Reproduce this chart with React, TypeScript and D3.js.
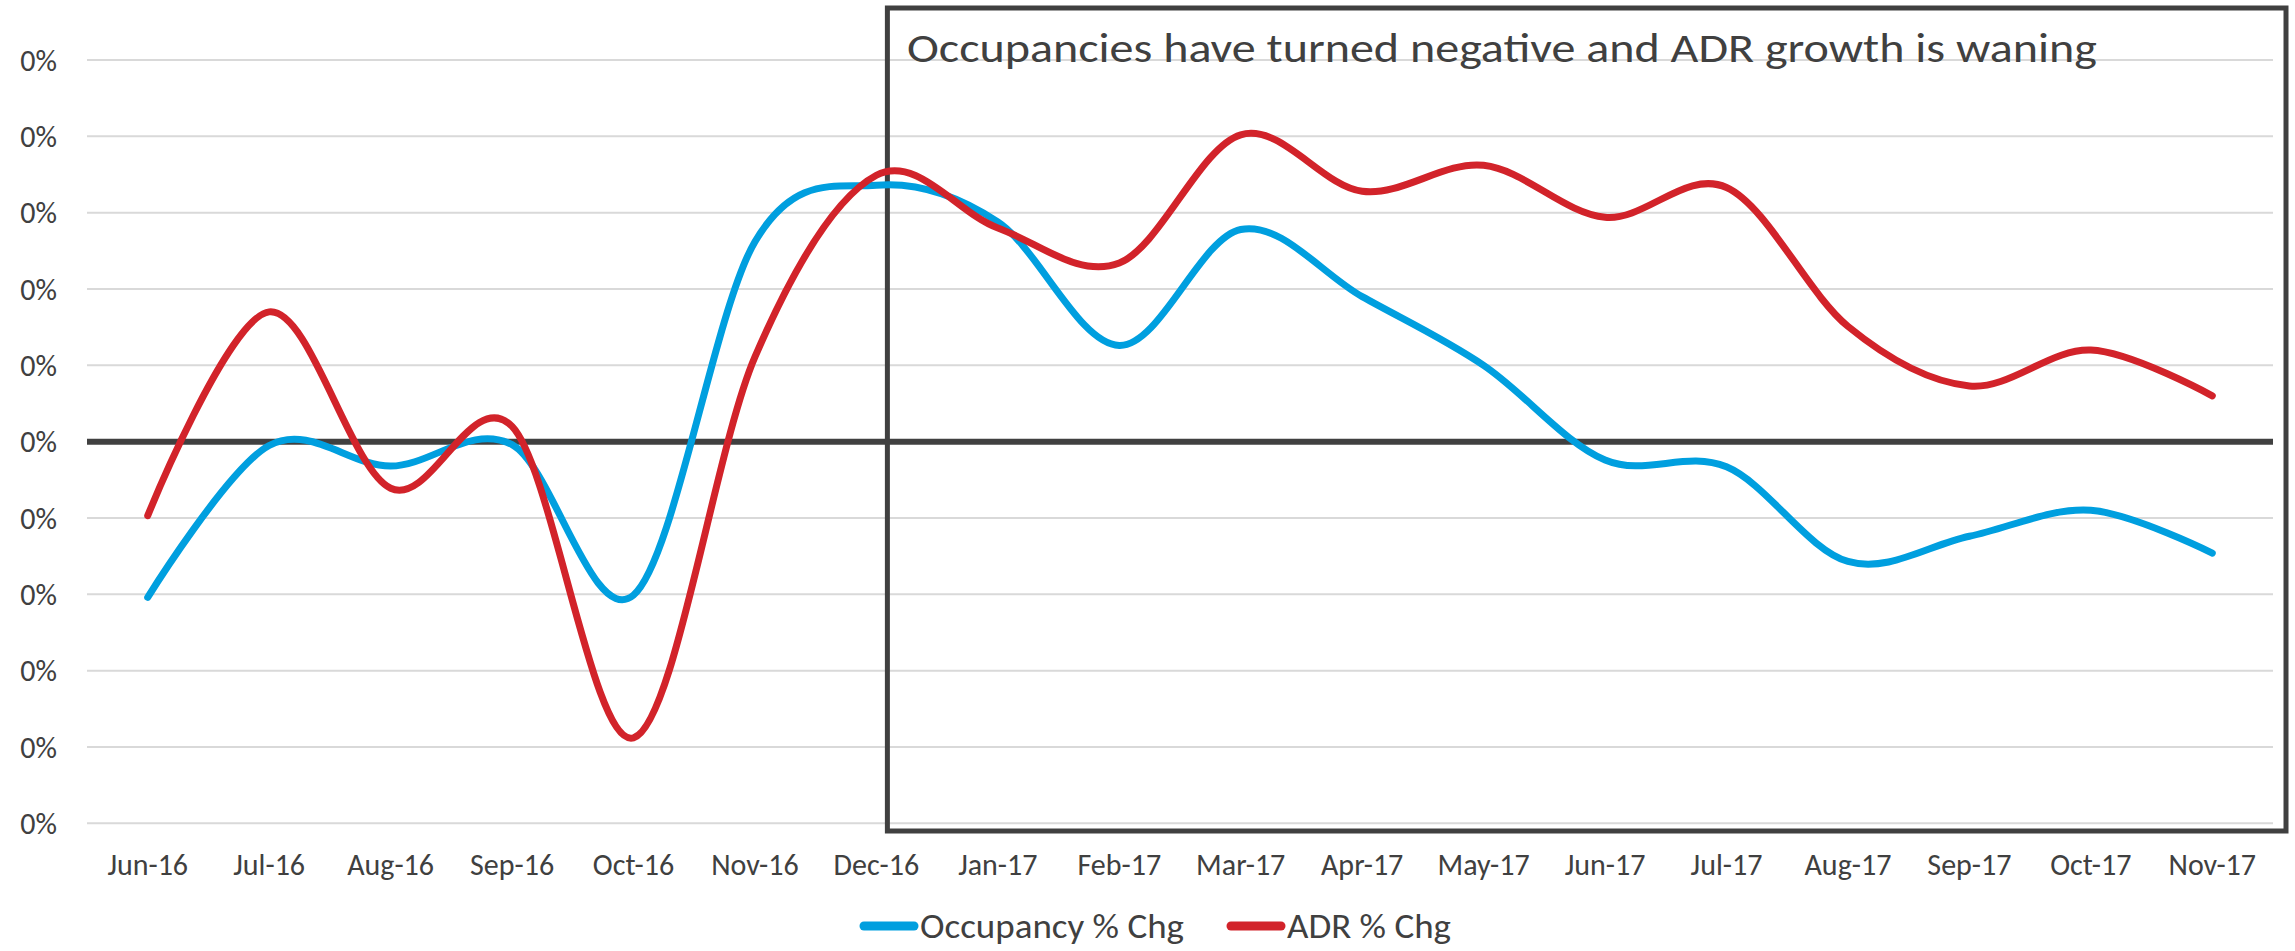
import React, { useEffect, useRef } from 'react';
import * as d3 from 'd3';

const months = ['Jun-16', 'Jul-16', 'Aug-16', 'Sep-16', 'Oct-16', 'Nov-16', 'Dec-16', 'Jan-17', 'Feb-17',
  'Mar-17', 'Apr-17', 'May-17', 'Jun-17', 'Jul-17', 'Aug-17', 'Sep-17', 'Oct-17', 'Nov-17'];

// values in axis units (gridline steps), all labels read "0%"
const occupancy = [-2.04, -0.05, -0.32, -0.04, -2.01, 2.62, 3.36, 2.88, 1.26, 2.78, 1.9, 1.0, -0.24, -0.33, -1.57, -1.24, -0.9, -1.46];
const adr = [-0.97, 1.7, -0.61, 0.2, -3.88, 1.11, 3.49, 2.8, 2.34, 4.02, 3.28, 3.62, 2.94, 3.33, 1.51, 0.73, 1.2, 0.6];

const yTicks = [-5, -4, -3, -2, -1, 0, 1, 2, 3, 4, 5];
const yTickLabels = ['0%', '0%', '0%', '0%', '0%', '0%', '0%', '0%', '0%', '0%', '0%'];

const seriesNames = ['Occupancy % Chg', 'ADR % Chg'];
const seriesColors = ['#009fdf', '#d2232a'];

const title = 'Occupancies have turned negative and ADR growth is waning';

const W = 2295;
const H = 951;
const FONT = "Carlito, Calibri, 'Open Sans', sans-serif";

const App = () => {
  const ref = useRef<SVGSVGElement>(null);

  useEffect(() => {
    const svg = d3.select(ref.current);
    svg.selectAll('*').remove();

    const x = d3.scalePoint<string>().domain(months).range([87, 2273]).padding(0.5);
    const y = d3.scaleLinear().domain([-5, 5]).range([823.3, 60]);

    // gridlines
    svg.append('g')
      .selectAll('line')
      .data(yTicks)
      .enter()
      .append('line')
      .attr('x1', 87)
      .attr('x2', 2273)
      .attr('y1', d => y(d))
      .attr('y2', d => y(d))
      .attr('stroke', '#d9d9d9')
      .attr('stroke-width', 2);

    // y labels
    svg.append('g')
      .selectAll('text')
      .data(yTicks)
      .enter()
      .append('text')
      .attr('x', 57)
      .attr('y', d => y(d))
      .attr('dy', '0.36em')
      .attr('text-anchor', 'end')
      .attr('font-family', FONT)
      .attr('font-size', 30)
      .attr('fill', '#404040')
      .text((d, i) => yTickLabels[i]);

    // zero line
    svg.append('line')
      .attr('x1', 87)
      .attr('x2', 2273)
      .attr('y1', y(0))
      .attr('y2', y(0))
      .attr('stroke', '#404040')
      .attr('stroke-width', 6);

    // x labels
    svg.append('g')
      .selectAll('text')
      .data(months)
      .enter()
      .append('text')
      .attr('x', d => x(d)!)
      .attr('y', 875)
      .attr('text-anchor', 'middle')
      .attr('font-family', FONT)
      .attr('font-size', 30)
      .attr('fill', '#404040')
      .text(d => d);

    // annotation box
    const bx = x('Dec-16')! + 11;
    svg.append('rect')
      .attr('x', bx)
      .attr('y', 8)
      .attr('width', 2286 - bx)
      .attr('height', 823)
      .attr('fill', 'none')
      .attr('stroke', '#404040')
      .attr('stroke-width', 5);

    svg.append('text')
      .attr('x', 907)
      .attr('y', 62)
      .attr('font-family', FONT)
      .attr('font-size', 42)
      .attr('fill', '#404040')
      .attr('textLength', 1190)
      .attr('lengthAdjust', 'spacingAndGlyphs')
      .text(title);

    // lines
    const line = d3.line<number>()
      .x((d, i) => x(months[i])!)
      .y(d => y(d))
      .curve(d3.curveCatmullRom.alpha(0));

    [occupancy, adr].forEach((s, k) => {
      svg.append('path')
        .datum(s)
        .attr('d', line)
        .attr('fill', 'none')
        .attr('stroke', seriesColors[k])
        .attr('stroke-width', 7)
        .attr('stroke-linecap', 'round')
        .attr('stroke-linejoin', 'round');
    });

    // legend
    const legendX = [860, 1227];
    const legendW = [264, 164];
    const ly = 926;
    seriesNames.forEach((name, k) => {
      svg.append('line')
        .attr('x1', legendX[k] + 4)
        .attr('x2', legendX[k] + 54)
        .attr('y1', ly)
        .attr('y2', ly)
        .attr('stroke', seriesColors[k])
        .attr('stroke-width', 9)
        .attr('stroke-linecap', 'round');
      svg.append('text')
        .attr('x', legendX[k] + 60)
        .attr('y', ly)
        .attr('dy', '0.36em')
        .attr('font-family', FONT)
        .attr('font-size', 34)
        .attr('fill', '#404040')
        .attr('textLength', legendW[k])
        .attr('lengthAdjust', 'spacingAndGlyphs')
        .text(name);
    });
  }, []);

  return (
    <svg ref={ref} width={W} height={H}
      style={{ position: 'absolute', left: 0, top: 0, display: 'block', background: '#fff' }} />
  );
};

export default App;
